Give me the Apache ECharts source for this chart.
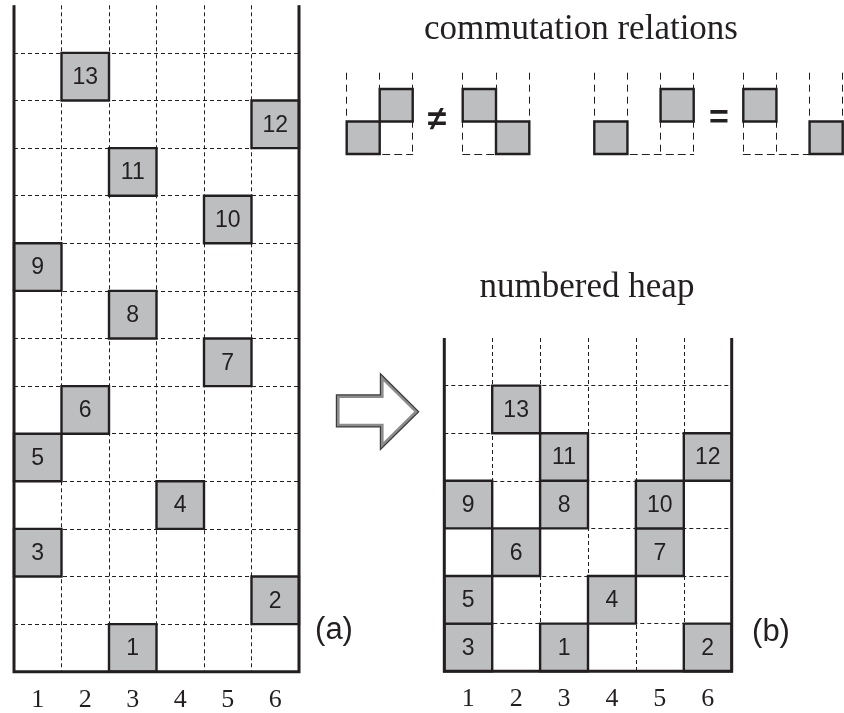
<!DOCTYPE html>
<html><head><meta charset="utf-8">
<script src="https://cdn.jsdelivr.net/npm/echarts@6/dist/echarts.min.js"></script>
<style>html,body{margin:0;padding:0;background:#fff}#c{width:844px;height:713px}</style>
</head><body><div id="c"></div>
<script>
// ---- data ----
const columns = ['1', '2', '3', '4', '5', '6'];
// panel (a): pieces as [column, height, number]
const heapA = [[3,1,'1'],[6,2,'2'],[1,3,'3'],[4,4,'4'],[1,5,'5'],[2,6,'6'],[5,7,'7'],[3,8,'8'],[1,9,'9'],[5,10,'10'],[3,11,'11'],[6,12,'12'],[2,13,'13']];
// panel (b): numbered heap
const heapB = [[3,1,'1'],[6,1,'2'],[1,1,'3'],[4,2,'4'],[1,2,'5'],[2,3,'6'],[5,3,'7'],[3,4,'8'],[1,4,'9'],[5,4,'10'],[3,5,'11'],[6,5,'12'],[2,6,'13']];
// commutation relation sketches
const comm1 = [[1,1,''],[2,2,'']];
const comm2 = [[1,2,''],[2,1,'']];
const comm3 = [[1,1,''],[3,2,'']];
const comm4 = [[1,2,''],[3,1,'']];
// walls of the two containers
const wallsA = [[0,14],[0,0],[6,0],[6,14]];
const wallsB = [[0,7],[0,0],[6,0],[6,7]];

const INK = '#231f20', FILL = '#bcbec0';
const SERIF = '"Liberation Serif", "Times New Roman", serif';
const SANS = '"Liberation Sans", Arial, sans-serif';

function valX(gridIndex, max, dash, axisLine) {
  return {type:'value', gridIndex, min:0, max, interval:1, position:'bottom',
    axisLabel:{show:false}, axisTick:{show:false},
    axisLine:{show:!!axisLine, onZero:false, lineStyle:{color:INK, width:1.1, type:dash}},
    splitLine:{show:true, lineStyle:{color:INK, width:1, type:dash}}};
}
function catX(gridIndex) {
  return {type:'category', gridIndex, data:columns, position:'bottom',
    axisLine:{show:false, onZero:false}, axisTick:{show:false}, splitLine:{show:false},
    axisLabel:{fontFamily:SERIF, fontSize:26, color:INK, margin:15}};
}
function valY(gridIndex, max) {
  return {type:'value', gridIndex, min:0, max, interval:1,
    axisLabel:{show:false}, axisTick:{show:false}, axisLine:{show:false},
    splitLine:{show:true, showMaxLine:false, lineStyle:{color:INK, width:1, type:[4,3]}}};
}
function hidY(gridIndex) {
  return {type:'value', gridIndex, min:0, max:2.5, show:false, splitLine:{show:false}};
}
function blockSeries(xi, yi, data, fontSize) {
  return {type:'custom', xAxisIndex:xi, yAxisIndex:yi, z:3, clip:false,
    data: data.map(d => [d[0], d[1]]),
    renderItem: (params, api) => {
      const c = api.value(0), r = api.value(1);
      const a = api.coord([c - 1, r]), b = api.coord([c, r - 1]);
      const label = data[params.dataIndex][2];
      const children = [{type:'rect', shape:{x:a[0], y:a[1], width:b[0]-a[0], height:b[1]-a[1]},
        style:{fill:FILL, stroke:INK, lineWidth:2.4}}];
      if (label) children.push({type:'text', style:{text:label, x:(a[0]+b[0])/2, y:(a[1]+b[1])/2 + 1,
        align:'center', verticalAlign:'middle', fill:INK, font:fontSize + 'px ' + SANS}});
      return {type:'group', children};
    }};
}
function wallSeries(xi, yi, data) {
  return {type:'line', xAxisIndex:xi, yAxisIndex:yi, data, symbol:'none', clip:false, z:6,
    lineStyle:{color:INK, width:3, join:'miter'}, silent:true};
}

const arrowPts = [[338.3,396.7],[382.3,396.7],[382.3,378.3],[416,411.7],[382.3,445],[382.3,425],[338.3,425]];

const option = {
  animation:false,
  backgroundColor:'#fff',
  grid:[
    {left:14, top:5.3, width:285, height:666.4},
    {left:444.3, top:338, width:287.4, height:333.2},
    {left:346.7, top:72.7, width:66, height:81.3},
    {left:462.7, top:72.7, width:66.6, height:81.3},
    {left:594.3, top:72.7, width:99.4, height:81.3},
    {left:743.3, top:72.7, width:99.4, height:81.3}
  ],
  xAxis:[
    valX(0, 6, [4,3]), catX(0),
    valX(1, 6, [4,3]), catX(1),
    valX(2, 2, [7,5], true), valX(3, 2, [7,5], true),
    valX(4, 3, [7,5], true), valX(5, 3, [7,5], true)
  ],
  yAxis:[
    valY(0, 14), valY(1, 7),
    hidY(2), hidY(3), hidY(4), hidY(5)
  ],
  series:[
    blockSeries(0, 0, heapA, 23), wallSeries(0, 0, wallsA),
    blockSeries(2, 1, heapB, 23), wallSeries(2, 1, wallsB),
    blockSeries(4, 2, comm1, 0), blockSeries(5, 3, comm2, 0),
    blockSeries(6, 4, comm3, 0), blockSeries(7, 5, comm4, 0)
  ],
  graphic:[
    {type:'text', x:581, y:30, style:{text:'commutation relations', font:'35px ' + SERIF, fill:INK, align:'center', verticalAlign:'middle'}},
    {type:'text', x:587, y:288, style:{text:'numbered heap', font:'35px ' + SERIF, fill:INK, align:'center', verticalAlign:'middle'}},
    {type:'text', x:437, y:121, style:{text:'\u2260', font:'bold 34px ' + SANS, fill:INK, align:'center', verticalAlign:'middle'}},
    {type:'text', x:719, y:119, style:{text:'=', font:'bold 34px ' + SANS, fill:INK, align:'center', verticalAlign:'middle'}},
    {type:'text', x:334, y:630, style:{text:'(a)', font:'31px ' + SANS, fill:INK, align:'center', verticalAlign:'middle'}},
    {type:'text', x:771, y:632, style:{text:'(b)', font:'31px ' + SANS, fill:INK, align:'center', verticalAlign:'middle'}},
    {type:'polygon', shape:{points:arrowPts}, style:{fill:'#fff', stroke:'#3a3a3a', lineWidth:5, lineJoin:'miter'}},
    {type:'polygon', shape:{points:arrowPts}, style:{fill:'#fff', stroke:'#8c8c8c', lineWidth:2.6, lineJoin:'miter'}}
  ]
};
const chart = echarts.init(document.getElementById('c'));
chart.setOption(option);
</script>
</body></html>
